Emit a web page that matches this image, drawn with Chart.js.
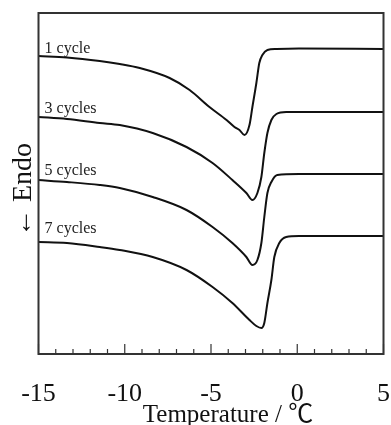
<!DOCTYPE html>
<html><head><meta charset="utf-8">
<script src="https://cdn.jsdelivr.net/npm/chart.js@4"></script>
<style>html,body{margin:0;padding:0;background:#fff}#wrap{width:391px;height:425px}</style>
</head><body><div id="wrap"><canvas id="c"></canvas></div>
<script>
// Temperature (°C) and DSC heat-flow signal (arbitrary units, endo down)
const temp1 = [-15, -13.35, -11.45, -10.29, -9.13, -7.40, -6.24, -5.09, -4.10, -3.64, -3.35, -3.06, -2.77, -2.60, -2.37, -2.20, -2.02, -1.73, -1.21, 0.10, 5];
const heat1 = [298, 296.5, 293, 290, 286, 276, 264, 247, 234, 227, 224, 219, 229, 247, 271, 291, 299, 304, 305, 305.5, 305];
const temp3 = [-15, -13.35, -11.45, -10.29, -8.38, -6.42, -4.91, -3.76, -2.95, -2.60, -2.31, -2.08, -1.91, -1.73, -1.50, -1.21, -0.64, 0.10, 5];
const heat3 = [237, 235, 231, 229, 221, 207, 191, 174, 161, 154, 161, 177, 201, 221, 234, 240, 242, 242, 242];
const temp5 = [-15, -13.35, -11.45, -10.29, -8.38, -6.42, -4.91, -3.76, -2.95, -2.60, -2.31, -2.08, -1.91, -1.73, -1.50, -1.16, 0.10, 5];
const heat5 = [174, 172, 169, 166, 157, 144, 127, 111, 97, 89, 94, 111, 137, 161, 172, 179, 180, 180];
const temp7 = [-15, -13.35, -11.45, -10.29, -8.38, -6.42, -4.91, -3.76, -2.77, -2.37, -2.08, -1.91, -1.73, -1.50, -1.33, -1.04, -0.64, 0.10, 5];
const heat7 = [112, 111, 107, 104, 97, 84, 67, 51, 34, 28, 26, 31, 51, 74, 97, 111, 117, 118, 118];

const seriesLabels = ['1 cycle', '3 cycles', '5 cycles', '7 cycles'];
const labelTemp = -14.65;
const labelHeat = [301, 241, 179, 121];
const xTickValues = [-15, -10, -5, 0, 5];
const xTitle = 'Temperature / \u2103';
const yTitle = '\u2190 Endo';

const temps = [temp1, temp3, temp5, temp7];
const heats = [heat1, heat3, heat5, heat7];
const datasets = seriesLabels.map((lab, i) => ({
  label: lab,
  data: temps[i].map((t, j) => ({x: t, y: heats[i][j]})),
  borderColor: '#111',
  borderWidth: 2,
  pointRadius: 0,
  cubicInterpolationMode: 'monotone',
  fill: false
}));

const SERIF = '"Liberation Serif", "Times New Roman", "Noto Sans CJK JP", serif';

const decor = {
  id: 'decor',
  afterDatasetsDraw(chart) {
    const {ctx, chartArea: a, scales: {x, y}} = chart;
    ctx.save();
    // frame
    ctx.strokeStyle = '#333';
    ctx.lineWidth = 2;
    ctx.strokeRect(a.left, a.top, a.right - a.left, a.bottom - a.top);
    // inward ticks
    for (let v = x.min; v <= x.max; v += 1) {
      const px = x.getPixelForValue(v);
      const len = (xTickValues.includes(v)) ? 10 : 5;
      ctx.beginPath();
      ctx.lineWidth = 1.2;
      ctx.moveTo(px, a.bottom);
      ctx.lineTo(px, a.bottom - len);
      ctx.stroke();
    }
    // curve labels
    ctx.fillStyle = '#222';
    ctx.font = '16px ' + SERIF;
    ctx.textAlign = 'left';
    ctx.textBaseline = 'alphabetic';
    seriesLabels.forEach((lab, i) => {
      ctx.fillText(lab, x.getPixelForValue(labelTemp), y.getPixelForValue(labelHeat[i]));
    });
    // x title
    ctx.fillStyle = '#111';
    ctx.font = '25px ' + SERIF;
    ctx.textAlign = 'center';
    ctx.fillText(xTitle, 228, 422);
    // y title
    ctx.translate(31, 190);
    ctx.rotate(-Math.PI / 2);
    ctx.font = '28px ' + SERIF;
    ctx.fillText(yTitle, 0, 0);
    ctx.restore();
  }
};

new Chart(document.getElementById('c'), {
  type: 'line',
  data: {datasets},
  options: {
    responsive: true,
    maintainAspectRatio: false,
    animation: false,
    layout: {autoPadding: false, padding: {left: 38.5, top: 13, right: 7.5, bottom: 0}},
    plugins: {legend: {display: false}, tooltip: {enabled: false}},
    scales: {
      x: {
        type: 'linear', min: -15, max: 5,
        grid: {display: false},
        border: {display: false},
        afterBuildTicks: (s) => { s.ticks = xTickValues.map(v => ({value: v})); },
        afterFit: (s) => { s.height = 71; s.paddingLeft = 0; s.paddingRight = 0; },
        ticks: {
          color: '#111',
          padding: 17,
          font: {family: SERIF, size: 26},
          maxRotation: 0,
          autoSkip: false
        }
      },
      y: {
        type: 'linear', min: 0, max: 341,
        display: false
      }
    }
  },
  plugins: [decor]
});
</script>
</body></html>
